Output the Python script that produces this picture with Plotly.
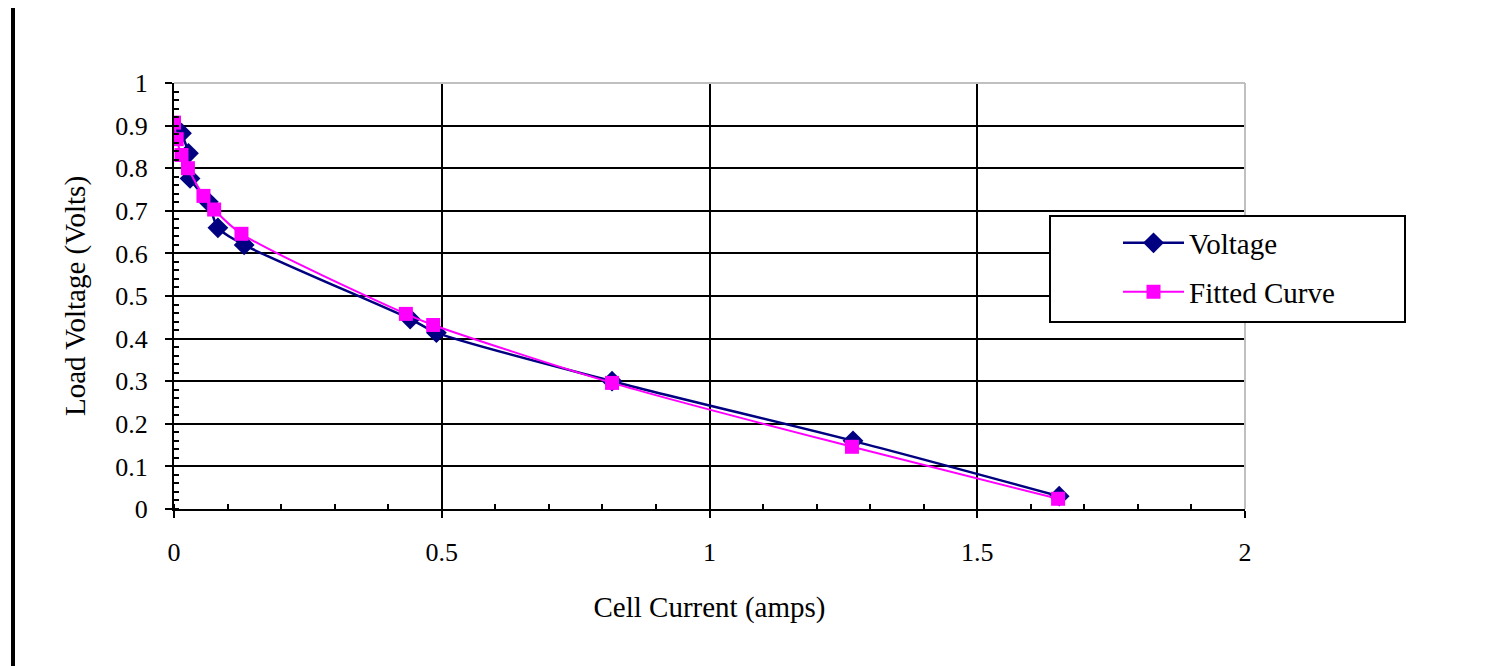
import plotly.graph_objects as go

# Measured voltage data
volt_current = [0.014, 0.027, 0.030, 0.064, 0.082, 0.131, 0.441, 0.490, 0.818, 1.268, 1.653]
volt_voltage = [0.882, 0.835, 0.776, 0.721, 0.660, 0.620, 0.446, 0.414, 0.300, 0.160, 0.030]

# Fitted curve
fit_current = [0.000, 0.005, 0.014, 0.026, 0.055, 0.075, 0.126, 0.433, 0.484, 0.818, 1.266, 1.651]
fit_voltage = [0.907, 0.868, 0.831, 0.800, 0.735, 0.703, 0.646, 0.458, 0.432, 0.296, 0.146, 0.024]

x_ticks = [0, 0.5, 1, 1.5, 2]
x_labels = ["0", "0.5", "1", "1.5", "2"]
y_ticks = [0, 0.1, 0.2, 0.3, 0.4, 0.5, 0.6, 0.7, 0.8, 0.9, 1]
y_labels = ["0", "0.1", "0.2", "0.3", "0.4", "0.5", "0.6", "0.7", "0.8", "0.9", "1"]

FONT = "Liberation Serif, Times New Roman, serif"

fig = go.Figure()
fig.add_trace(go.Scatter(
    x=volt_current, y=volt_voltage, name="Voltage", mode="lines+markers",
    line=dict(color="#000080", width=2.5, shape="spline", smoothing=0.8),
    marker=dict(symbol="diamond", size=16, color="#000080"),
    legend="legend",
))
fig.add_trace(go.Scatter(
    x=fit_current, y=fit_voltage, name="Fitted Curve", mode="lines+markers",
    line=dict(color="#FF00FF", width=2, shape="spline", smoothing=0.8),
    marker=dict(symbol="square", size=14, color="#FF00FF"),
    legend="legend2",
))

# page body has an 8px margin in the browser
OFF = 8
W, H = 1494, 666
PL, PR, PT, PB = 174, 1245, 83, 509   # plot area on screen
L = PL - OFF
T = PT - OFF
pw, ph = PR - PL, PB - PT
R = W - L - pw
B = H - T - ph

def px(xs):
    return (xs - PL) / pw

def py(ys):
    return (PB - ys) / ph

leg_common = dict(font=dict(family=FONT, size=29, color="black"), bgcolor="rgba(0,0,0,0)",
                  borderwidth=0, itemwidth=61, xanchor="left", yanchor="middle")

fig.update_layout(
    width=W, height=H,
    margin=dict(l=L, r=R, t=T, b=B),
    paper_bgcolor="white", plot_bgcolor="white",
    font=dict(family=FONT, size=26, color="black"),
    showlegend=True,
    legend=dict(x=px(1118), y=py(243), **leg_common),
    legend2=dict(x=px(1118), y=py(292), **leg_common),
    xaxis=dict(
        range=[0, 2], tickvals=x_ticks, ticktext=x_labels,
        showgrid=True, gridcolor="black", gridwidth=2,
        showline=True, linecolor="black", linewidth=2,
        ticks="outside", ticklen=7, tickwidth=2, tickcolor="black",
        minor=dict(ticks="inside", dtick=0.1, ticklen=5, tickwidth=2, tickcolor="black", showgrid=False),
        zeroline=False, ticklabelstandoff=12,
        tickfont=dict(family=FONT, size=26),
        title=dict(text="Cell Current (amps)", font=dict(family=FONT, size=29), standoff=30),
    ),
    yaxis=dict(
        range=[0, 1], tickvals=y_ticks, ticktext=y_labels,
        showgrid=True, gridcolor="black", gridwidth=2,
        showline=True, linecolor="black", linewidth=2,
        ticks="outside", ticklen=7, tickwidth=2, tickcolor="black",
        minor=dict(ticks="inside", dtick=0.02, ticklen=5, tickwidth=2, tickcolor="black", showgrid=False),
        zeroline=False, ticklabelstandoff=12,
        tickfont=dict(family=FONT, size=26),
        title=dict(text="Load Voltage (Volts)", font=dict(family=FONT, size=29), standoff=21),
    ),
    shapes=[
        # light grey top and right border of plot area
        dict(type="line", xref="paper", yref="paper", x0=0, x1=1, y0=1, y1=1,
             line=dict(color="#c0c0c0", width=2), layer="above"),
        dict(type="line", xref="paper", yref="paper", x0=1, x1=1, y0=0, y1=1,
             line=dict(color="#c0c0c0", width=2), layer="above"),
        # legend box
        dict(type="rect", xref="paper", yref="paper", x0=px(1050), x1=px(1405), y0=py(322), y1=py(216),
             line=dict(color="black", width=2), fillcolor="white", layer="above"),
        # left border of chart area
        dict(type="line", xref="paper", yref="paper", x0=px(13), x1=px(13), y0=py(680), y1=py(8),
             line=dict(color="black", width=4)),
    ],
)

fig.write_html("out.html")
